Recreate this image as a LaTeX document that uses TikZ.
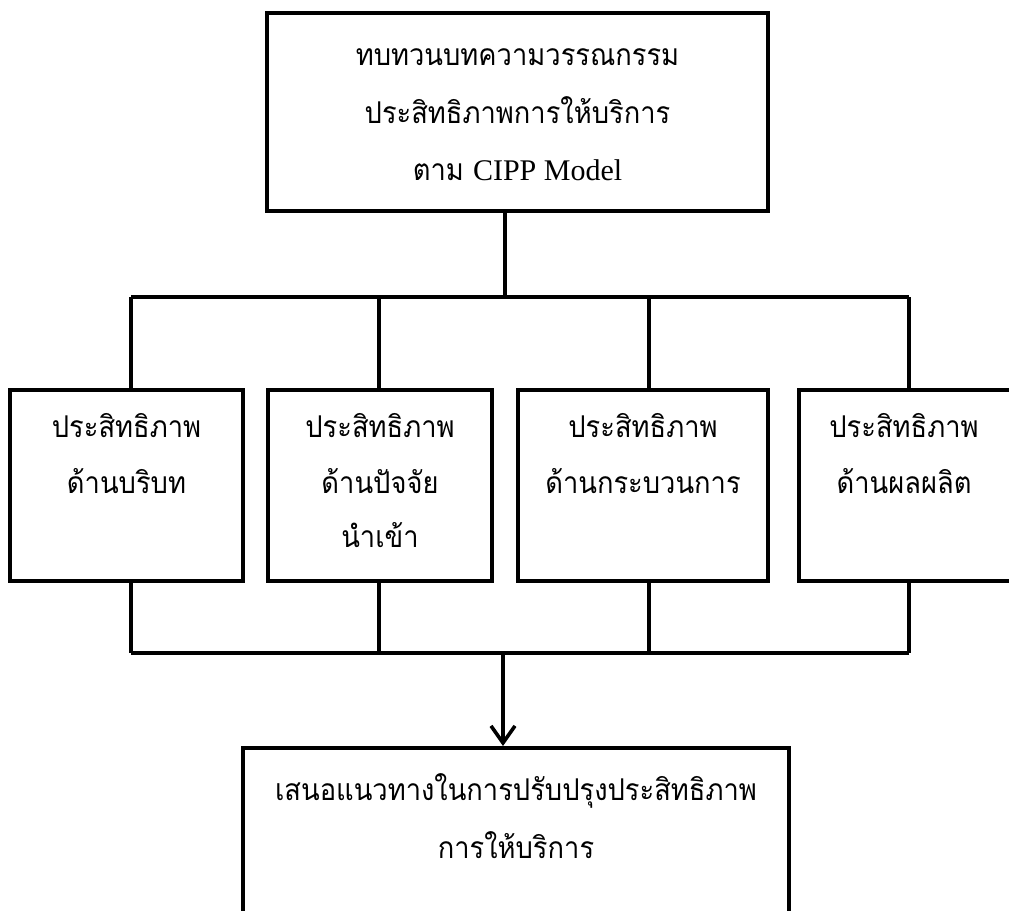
\documentclass[tikz,border=0pt]{standalone}
\usepackage{fontspec}
\newfontfamily\thaifont[Script=Thai,FakeStretch=0.91]{Loma}
\newfontfamily\latinfont{Liberation Serif}
\usetikzlibrary{arrows.meta}
\begin{document}
\begin{tikzpicture}[x=1pt,y=-1pt,
  box/.style={draw, line width=4pt, inner sep=0pt},
  txt/.style={anchor=base, inner sep=0pt, font=\thaifont\fontsize{30}{56}\selectfont},
  conn/.style={line width=3.6pt},
  arr/.style={line width=3.6pt, -{Straight Barb[length=17pt,width=24pt,line width=3.6pt]}}]
\useasboundingbox (0,0) rectangle (1009,910);
% boxes
\node[box, minimum width=501pt, minimum height=198pt] (top) at (517.5,112) {};
\node[box, minimum width=233pt, minimum height=191pt] (b1) at (126.5,485.5) {};
\node[box, minimum width=224pt, minimum height=191pt] (b2) at (380,485.5) {};
\node[box, minimum width=250pt, minimum height=191pt] (b3) at (643,485.5) {};
\node[box, minimum width=230pt, minimum height=191pt] (b4) at (914,485.5) {};
\node[box, minimum width=546pt, minimum height=190pt] (bot) at (516,843) {};
% texts
\node[txt] (t1) at (517.5,65) {ทบทวนบทความวรรณกรรม};
\node[txt] (t2) at (517.5,123) {ประสิทธิภาพการให้บริการ};
\node[txt] (t3) at (517.5,180) {ตาม {\latinfont CIPP Model}};
\node[txt] (a1) at (126.5,437) {ประสิทธิภาพ};
\node[txt] (a2) at (126.5,493) {ด้านบริบท};
\node[txt] (c1) at (380,437) {ประสิทธิภาพ};
\node[txt] (c2) at (380,493) {ด้านปัจจัย};
\node[txt] (c3) at (380,547) {นำเข้า};
\node[txt] (d1) at (643,437) {ประสิทธิภาพ};
\node[txt] (d2) at (643,493) {ด้านกระบวนการ};
\node[txt] (e1) at (904,437) {ประสิทธิภาพ};
\node[txt] (e2) at (904,493) {ด้านผลผลิต};
\node[txt] (f1) at (516,800) {เสนอแนวทางในการปรับปรุงประสิทธิภาพ};
\node[txt] (f2) at (516,858) {การให้บริการ};
% connector points
\coordinate (hub) at (505,297);
\coordinate (u1) at (131,297);
\coordinate (u2) at (379,297);
\coordinate (u3) at (649,297);
\coordinate (u4) at (909,297);
\coordinate (l1) at (131,653);
\coordinate (l2) at (379,653);
\coordinate (l3) at (649,653);
\coordinate (l4) at (909,653);
\coordinate (lh) at (503,653);
% connectors
\draw[conn] (top.south -| hub) -- (hub);
\draw[conn] (u1) -- (u4);
\draw[conn] (u1) -- (u1 |- b1.north);
\draw[conn] (u2) -- (u2 |- b2.north);
\draw[conn] (u3) -- (u3 |- b3.north);
\draw[conn] (u4) -- (u4 |- b4.north);
\draw[conn] (l1 |- b1.south) -- (l1);
\draw[conn] (l2 |- b2.south) -- (l2);
\draw[conn] (l3 |- b3.south) -- (l3);
\draw[conn] (l4 |- b4.south) -- (l4);
\draw[conn] (l1) -- (l4);
\draw[arr] (lh) -- (lh |- bot.north);
\end{tikzpicture}
\end{document}
